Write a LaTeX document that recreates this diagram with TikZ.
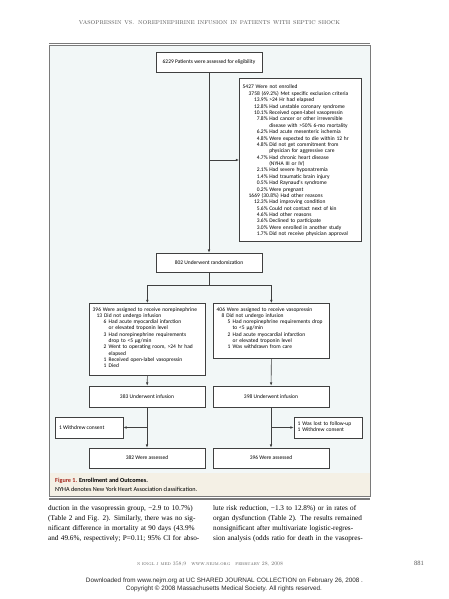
\documentclass[tikz,border=0pt]{standalone}
\usepackage{fontspec}
\usepackage{graphicx}
\newfontfamily\figfont{Carlito}
\newfontfamily\bodyfont{Liberation Serif}
\newfontfamily\dlfont{Liberation Sans}
\usetikzlibrary{arrows.meta}
\definecolor{panelbg}{HTML}{F2F7F7}
\definecolor{capbg}{HTML}{F4F0E5}
\definecolor{boxline}{HTML}{404040}
\definecolor{rulegray}{HTML}{7A7A7A}
\definecolor{figred}{HTML}{A3271C}
\definecolor{hdrgray}{HTML}{555555}
\newcommand\exPct[2]{\hspace*{6pt}\makebox[19pt][r]{#1}\hspace*{1.6pt}#2}
\newcommand\exCont[1]{\hspace*{26.6pt}#1}
\newcommand\trItem[2]{\hspace*{11pt}\makebox[5pt][l]{#1}#2}
\newcommand\trCont[1]{\hspace*{16pt}#1}
\newcommand\bline[1]{\makebox[155pt][s]{#1}}
\begin{document}
\begin{tikzpicture}[x=1pt,y=-1pt,
  fbox/.style={draw=boxline, line width=0.7pt, fill=white, inner sep=0pt},
  conn/.style={draw=boxline, line width=0.6pt},
  arr/.style={conn, -{Latex[length=3.2pt,width=2.6pt]}},
  ftext/.style={inner sep=0pt, text=black, font=\figfont\fontsize{5.5}{6.3}\selectfont},
  mtext/.style={ftext, anchor=base west, text width=125pt, align=left},
  bodytext/.style={inner sep=0pt, anchor=base west, text width=155pt, align=left, font=\bodyfont\fontsize{7.2}{10}\selectfont}
]
\useasboundingbox (0,0) rectangle (449,599);
\fill[white] (0,0) rectangle (449,599);

% running header
\node[anchor=base, inner sep=0pt, text=hdrgray] (hdr) at (209.5,25)
  {\resizebox{261pt}{!}{\addfontfeature{LetterSpace=8}\textsc{vasopressin vs. norepinephrine infusion in patients with septic shock}}};

% figure panel
\fill[panelbg] (49,45) rectangle (370,473);
\fill[capbg] (49,473) rectangle (370,496);
\draw[rulegray, line width=0.5pt] (49,45) rectangle (370,496);
\draw[rulegray, line width=1.4pt] (49,43.3) -- (370,43.3);
\draw[rulegray, line width=1.2pt] (49,499) -- (370,499);

% boxes
\node[fbox, ftext, minimum width=106pt, minimum height=20pt] (elig) at (209,62) {6229 Patients were assessed for eligibility};
\node[fbox, minimum width=122pt, minimum height=163pt, anchor=north west] (excl) at (239,78) {};
\node[mtext] (excltxt) at (242.5,89) {\fontsize{5.5}{6.38}\selectfont
5427 Were not enrolled\\
\hspace*{6pt}3758 (69.2\%) Met specific exclusion criteria\\
\exPct{13.9\%}{>24 Hr had elapsed}\\
\exPct{12.8\%}{Had unstable coronary syndrome}\\
\exPct{10.1\%}{Received open-label vasopressin}\\
\exPct{7.8\%}{Had cancer or other irreversible}\\
\exCont{disease with >50\% 6-mo mortality}\\
\exPct{6.2\%}{Had acute mesenteric ischemia}\\
\exPct{4.8\%}{Were expected to die within 12 hr}\\
\exPct{4.8\%}{Did not get commitment from}\\
\exCont{physician for aggressive care}\\
\exPct{4.7\%}{Had chronic heart disease}\\
\exCont{(NYHA III or IV)}\\
\exPct{2.1\%}{Had severe hyponatremia}\\
\exPct{1.4\%}{Had traumatic brain injury}\\
\exPct{0.5\%}{Had Raynaud's syndrome}\\
\exPct{0.2\%}{Were pregnant}\\
\hspace*{6pt}1669 (30.8\%) Had other reasons\\
\exPct{12.3\%}{Had improving condition}\\
\exPct{5.6\%}{Could not contact next of kin}\\
\exPct{4.6\%}{Had other reasons}\\
\exPct{3.6\%}{Declined to participate}\\
\exPct{3.0\%}{Were enrolled in another study}\\
\exPct{1.7\%}{Did not receive physician approval}};

\node[fbox, ftext, minimum width=106pt, minimum height=19pt] (rand) at (209,262.5) {802 Underwent randomization};

\node[fbox, minimum width=116pt, minimum height=72pt, anchor=north west] (trtL) at (89,303) {};
\node[mtext] (trtLtxt) at (92.5,311) {
396 Were assigned to receive norepinephrine\\
\hspace*{4pt}13 Did not undergo infusion\\
\trItem{6}{Had acute myocardial infarction}\\
\trCont{or elevated troponin level}\\
\trItem{3}{Had norepinephrine requirements}\\
\trCont{drop to <5 µg/min}\\
\trItem{2}{Went to operating room, >24 hr had}\\
\trCont{elapsed}\\
\trItem{1}{Received open-label vasopressin}\\
\trItem{1}{Died}};

\node[fbox, minimum width=116pt, minimum height=55pt, anchor=north west] (trtR) at (213,303) {};
\node[mtext] (trtRtxt) at (216.5,311) {
406 Were assigned to receive vasopressin\\
\hspace*{5pt}8 Did not undergo infusion\\
\trItem{5}{Had norepinephrine requirements drop}\\
\trCont{to <5 µg/min}\\
\trItem{2}{Had acute myocardial infarction}\\
\trCont{or elevated troponin level}\\
\trItem{1}{Was withdrawn from care}};

\node[fbox, ftext, minimum width=116pt, minimum height=21pt] (infL) at (147,396.5) {383 Underwent infusion};
\node[fbox, ftext, minimum width=116pt, minimum height=21pt] (infR) at (271,396.5) {398 Underwent infusion};
\node[fbox, ftext, minimum width=116pt, minimum height=20pt] (assL) at (147,458) {382 Were assessed};
\node[fbox, ftext, minimum width=116pt, minimum height=20pt] (assR) at (271,458) {396 Were assessed};

\node[fbox, minimum width=68pt, minimum height=21pt] (wdL) at (89,427.5) {};
\node[ftext, anchor=west] (wdLtxt) at (59,427.5) {1 Withdrew consent};
\node[fbox, minimum width=68pt, minimum height=21pt] (wdR) at (328,427.5) {};
\node[mtext, text width=62pt] (wdRtxt) at (297.5,425) {1 Was lost to follow-up\\1 Withdrew consent};

% connectors
\draw[arr] (elig) -- (rand);
\coordinate (exb) at (209,160);
\draw[arr] (exb) -- (excl.west |- exb);
\coordinate (split) at (209,285);
\draw[conn] (rand.south) -- (split);
\draw[arr] (split) -| (trtL.north);
\draw[arr] (split) -| (trtR.north);
\draw[arr] (trtL.north |- trtL.south) -- (infL);
\draw[arr] (trtR.north |- trtR.south) -- (infR);
\draw[arr] (infL) -- (assL);
\draw[arr] (infR) -- (assR);
\coordinate (brL) at (147,427.5);
\coordinate (brR) at (271,427.5);
\draw[arr] (brL) -- (wdL.east);
\draw[arr] (brR) -- (wdR.west);

% caption
\node[anchor=base west, inner sep=0pt, font=\figfont\fontsize{6.2}{7}\selectfont] (cap1) at (55,482.5)
  {\textcolor{figred}{\textbf{Figure 1.}} \textbf{Enrollment and Outcomes.}};
\node[anchor=base west, inner sep=0pt, font=\figfont\fontsize{6.2}{7}\selectfont] (cap2) at (55,491.5)
  {NYHA denotes New York Heart Association classification.};

% body text
\node[bodytext] (colL) at (48,510) {
\bline{duction in the vasopressin group, −2.9 to 10.7\%)}\\
\bline{(Table 2 and Fig. 2). Similarly, there was no sig-}\\
\bline{nificant difference in mortality at 90 days (43.9\%}\\
\bline{and 49.6\%, respectively; P=0.11; 95\% CI for abso-}};
\node[bodytext] (colR) at (213,510) {
\bline{lute risk reduction, −1.3 to 12.8\%) or in rates of}\\
\bline{organ dysfunction (Table 2). The results remained}\\
\bline{nonsignificant after multivariate logistic-regres-}\\
\bline{sion analysis (odds ratio for death in the vasopres-}};

% footer
\node[anchor=base, inner sep=0pt, text=hdrgray] (foot) at (210,565)
  {\resizebox{146pt}{!}{\textsc{n engl j med 358;9\quad www.nejm.org\quad february 28, 2008}}};
\node[anchor=base, inner sep=0pt, font=\bodyfont\fontsize{6.5}{7}\selectfont, text=hdrgray] (page) at (419,565) {881};
\node[anchor=base, inner sep=0pt, text=black!85] (dl) at (224.5,582.5)
  {\resizebox{277pt}{!}{\dlfont\fontsize{6}{7}\selectfont Downloaded from www.nejm.org at UC SHARED JOURNAL COLLECTION on February 26, 2008 .}};
\node[anchor=base, inner sep=0pt, text=black!85] (copy) at (224,590.5)
  {\resizebox{196pt}{!}{\dlfont\fontsize{6}{7}\selectfont Copyright © 2008 Massachusetts Medical Society. All rights reserved.}};
\end{tikzpicture}
\end{document}
